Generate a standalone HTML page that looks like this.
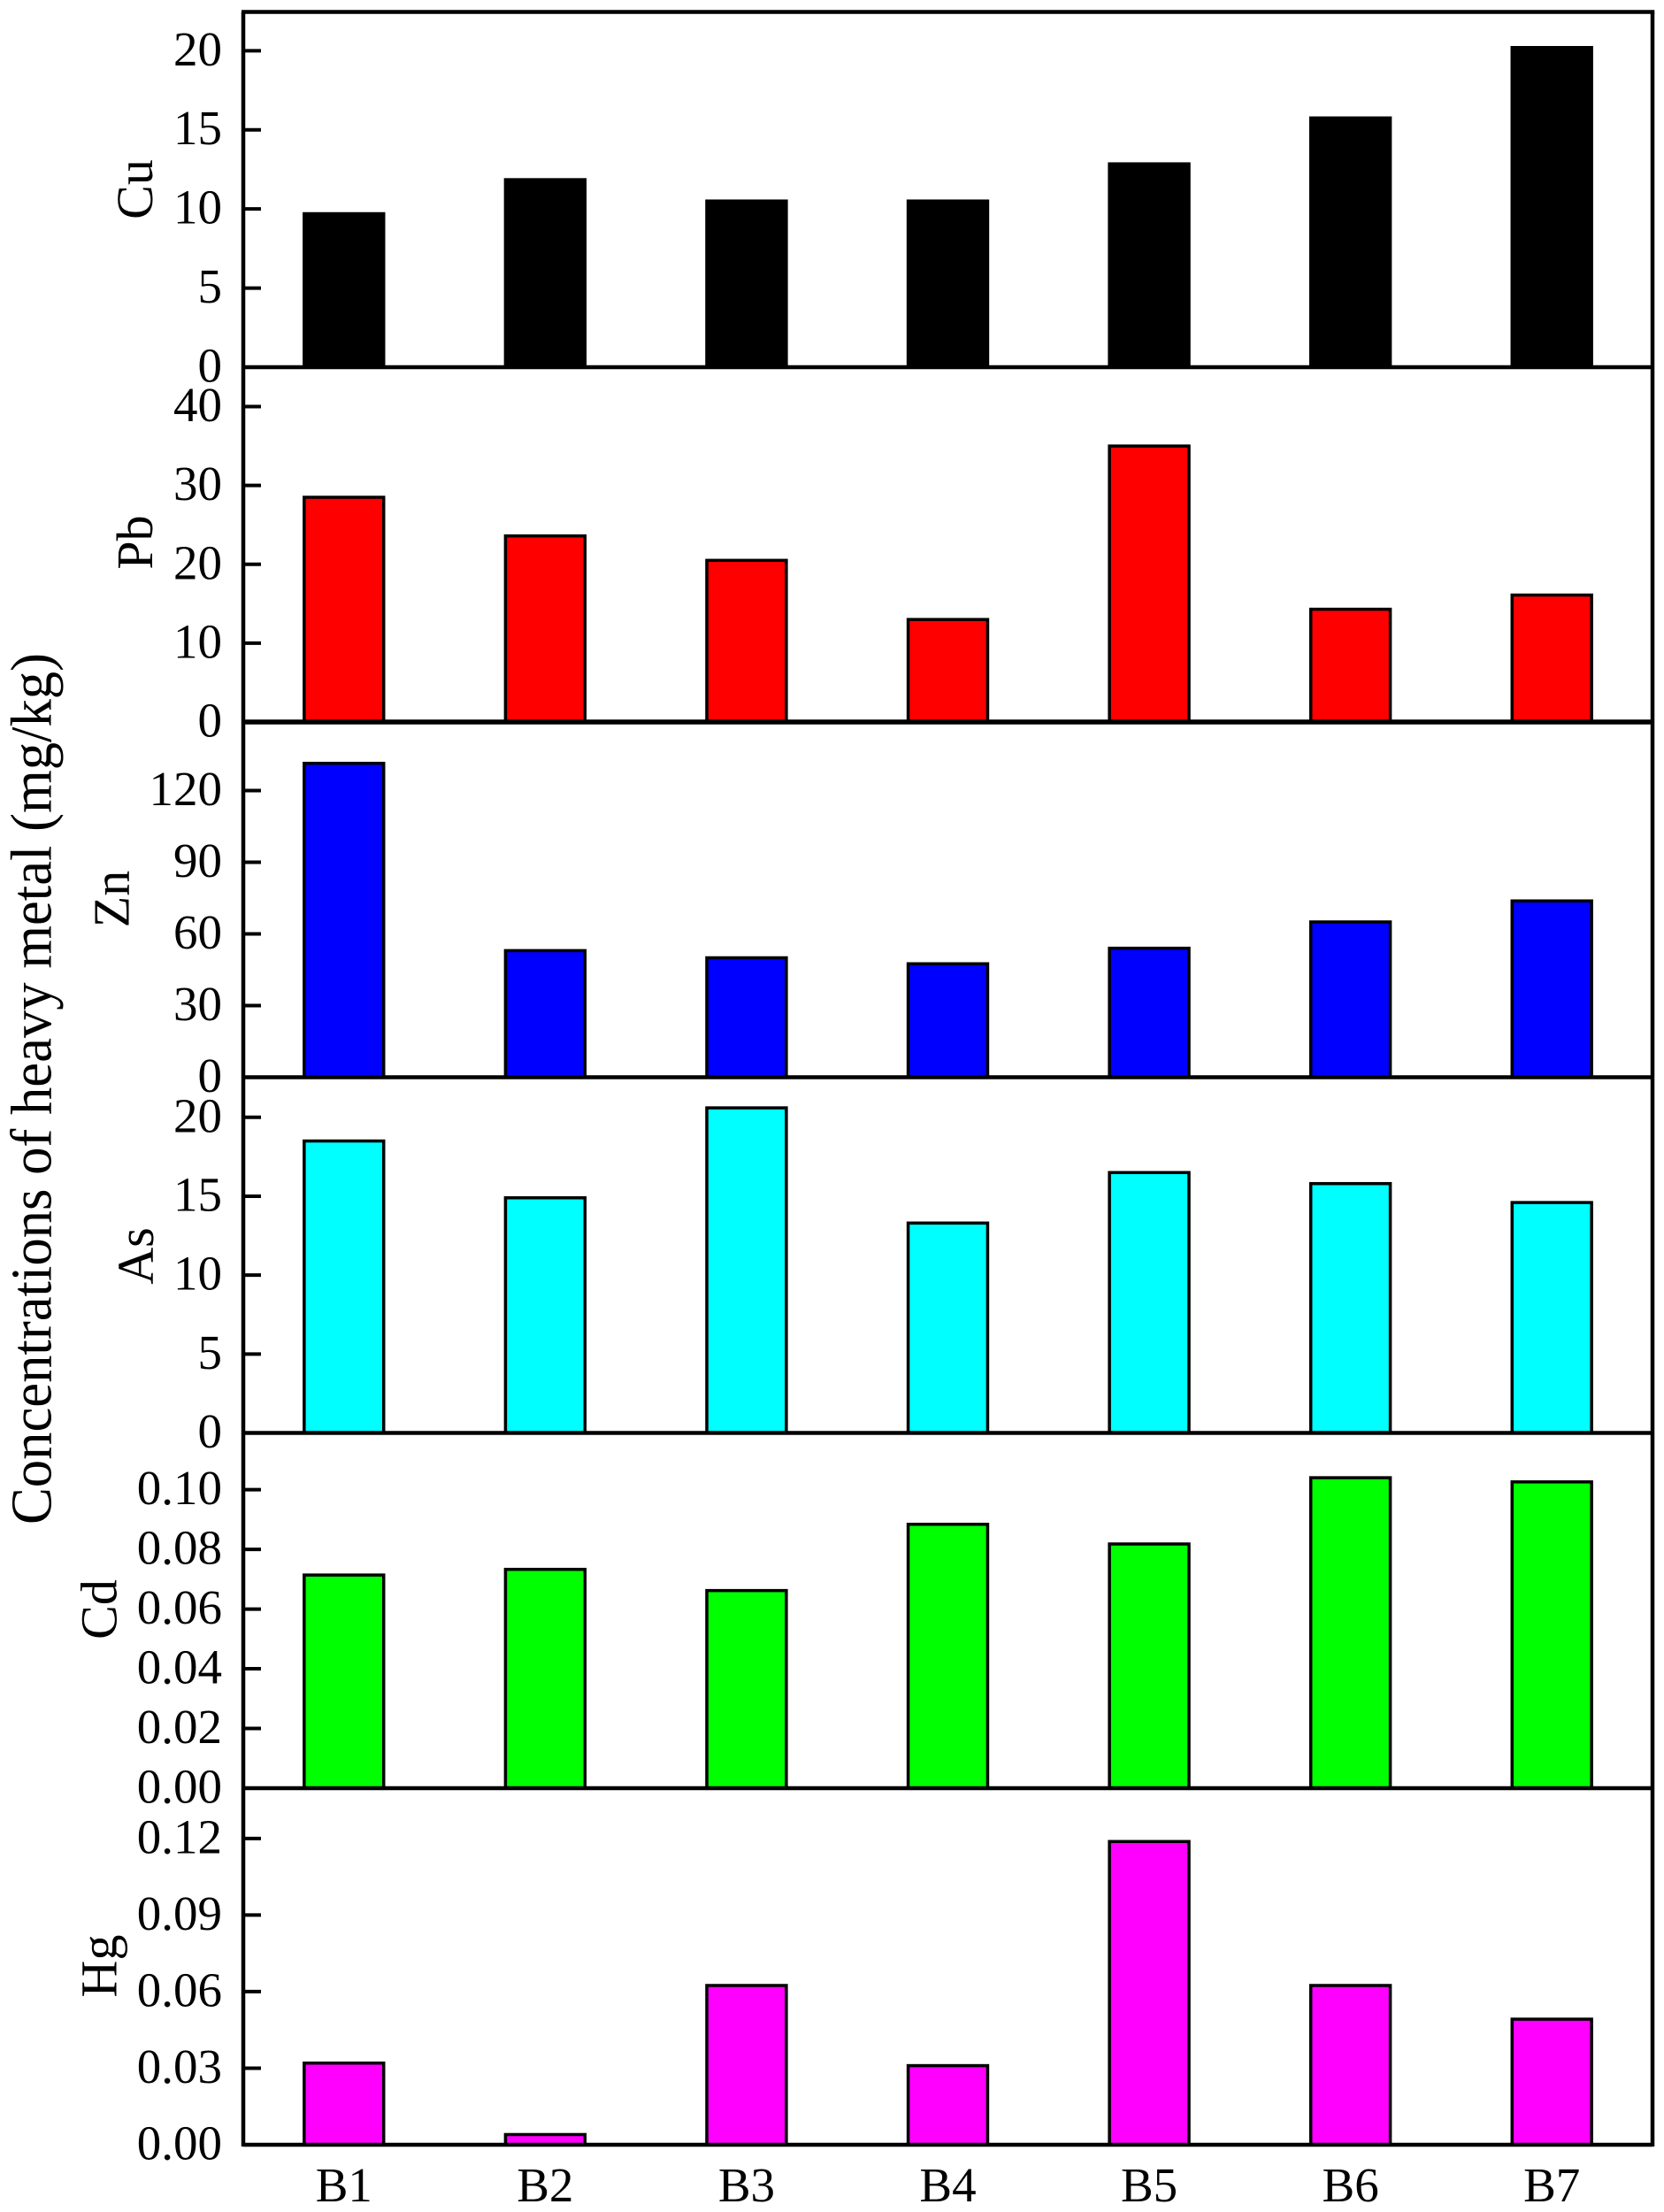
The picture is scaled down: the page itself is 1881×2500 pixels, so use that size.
<!DOCTYPE html>
<html lang="en">
<head>
<meta charset="utf-8">
<title>Concentrations of heavy metal</title>
<style>
html,body{margin:0;padding:0;background:#fff;}
svg{display:block;}
text{font-family:"Liberation Serif","Times New Roman",serif;fill:#000;}
</style>
</head>
<body>
<svg id="chart" xmlns="http://www.w3.org/2000/svg" width="1881" height="2500" viewBox="0 0 1881 2500">
<rect x="0" y="0" width="1881" height="2500" fill="#fff"/>
<text transform="translate(57.5 1230.5) rotate(-90)" text-anchor="middle" font-size="66" textLength="985" lengthAdjust="spacingAndGlyphs">Concentrations of heavy metal (mg/kg)</text>
</svg>
<script>
const categories = ['B1','B2','B3','B4','B5','B6','B7'];

const cuValues = [9.7,11.85,10.5,10.5,12.85,15.75,20.2];
const pbValues = [28.5,23.6,20.5,13,35,14.3,16.1];
const znValues = [131.4,53,50,47.5,54,65,73.8];
const asValues = [18.5,14.9,20.6,13.3,16.5,15.8,14.6];
const cdValues = [0.0714,0.0733,0.0662,0.0884,0.0818,0.104,0.1026];
const hgValues = [0.032,0.004,0.0624,0.031,0.1188,0.0624,0.0492];

const cuTicks = ['0','5','10','15','20'];
const pbTicks = ['0','10','20','30','40'];
const znTicks = ['0','30','60','90','120'];
const asTicks = ['0','5','10','15','20'];
const cdTicks = ['0.00','0.02','0.04','0.06','0.08','0.10'];
const hgTicks = ['0.00','0.03','0.06','0.09','0.12'];

const cuMax = 22.45;
const pbMax = 45;
const znMax = 148.7;
const asMax = 22.54;
const cdMax = 0.119;
const hgMax = 0.1397;

const svg = document.getElementById('chart');
const NS = 'http://www.w3.org/2000/svg';
const plotLeft = 275;
const plotRight = 1868;
const plotTop = 13.5;
const tickLength = 20;
const labelX = 251;
const fontSize = 55;
const barFraction = 0.395;

const panels = [
  {name:'cu', title:'Cu', values:cuValues, ticks:cuTicks, max:cuMax, top:plotTop, bottom:415, color:'#000000', titleBase:172, titleMid:214, axisWidth:4.5},
  {name:'pb', title:'Pb', values:pbValues, ticks:pbTicks, max:pbMax, top:415, bottom:816, color:'#ff0000', titleBase:172, titleMid:613, axisWidth:5.5},
  {name:'zn', title:'Zn', values:znValues, ticks:znTicks, max:znMax, top:816, bottom:1217.5, color:'#0000ff', titleBase:145.5, titleMid:1016, axisWidth:4.5},
  {name:'as', title:'As', values:asValues, ticks:asTicks, max:asMax, top:1217.5, bottom:1619.5, color:'#00ffff', titleBase:173, titleMid:1419.5, axisWidth:4.5},
  {name:'cd', title:'Cd', values:cdValues, ticks:cdTicks, max:cdMax, top:1619.5, bottom:2021, color:'#00ff00', titleBase:131.5, titleMid:1819, axisWidth:4.5},
  {name:'hg', title:'Hg', values:hgValues, ticks:hgTicks, max:hgMax, top:2021, bottom:2424, color:'#ff00ff', titleBase:131.5, titleMid:2222, axisWidth:4.5}
];

function xBand(){ return (plotRight - plotLeft) / categories.length; }
function xCenter(i){ return plotLeft + xBand() * (i + 0.5); }
function yScale(panel, v){ return panel.bottom - (v / panel.max) * (panel.bottom - panel.top); }

function make(tag, attrs, text){
  const el = document.createElementNS(NS, tag);
  for (const k in attrs) el.setAttribute(k, attrs[k]);
  if (text !== undefined) el.textContent = text;
  svg.appendChild(el);
  return el;
}

panels.forEach(function(panel){
  const barW = xBand() * barFraction;
  panel.values.forEach(function(v, i){
    const y = yScale(panel, v);
    const bar = make('rect', {x:xCenter(i) - barW / 2, y:y, width:barW, height:panel.bottom - y, fill:panel.color, stroke:'#000', 'stroke-width':3.5});
    
    
  });

  panel.ticks.forEach(function(label){
    const y = yScale(panel, parseFloat(label));
    const tick = make('line', {x1:plotLeft, x2:plotLeft + tickLength, y1:y, y2:y, stroke:'#000', 'stroke-width':4});
    
    
    const tickText = make('text', {x:labelX, y:y + 16.5, 'text-anchor':'end', 'font-size':fontSize}, label);
    
    
  });

  const baseLine = make('line', {x1:plotLeft, x2:plotRight, y1:panel.bottom, y2:panel.bottom, stroke:'#000', 'stroke-width':panel.axisWidth});
  
  

  const panelTitle = make('text', {transform:'translate(' + panel.titleBase + ' ' + panel.titleMid + ') rotate(-90)', 'text-anchor':'middle', 'font-size':58}, panel.title);
  
  
});

const topLine = make('line', {x1:plotLeft - 2, x2:plotRight + 2.25, y1:plotTop, y2:plotTop, stroke:'#000', 'stroke-width':4.5});



const leftLine = make('line', {x1:plotLeft, x2:plotLeft, y1:plotTop, y2:2426, stroke:'#000', 'stroke-width':4.5});



const rightLine = make('line', {x1:plotRight, x2:plotRight, y1:plotTop, y2:2426, stroke:'#000', 'stroke-width':4.5});



categories.forEach(function(c, i){
  const cat = make('text', {x:xCenter(i), y:2488, 'text-anchor':'middle', 'font-size':fontSize}, c);
  
  
});
</script>
</body>
</html>
